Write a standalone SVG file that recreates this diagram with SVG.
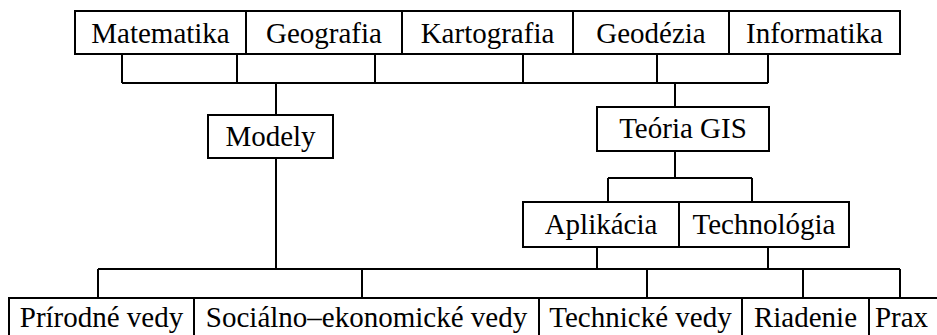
<svg xmlns="http://www.w3.org/2000/svg" width="937" height="335" viewBox="0 0 937 335">
<style>
rect{fill:#fff;stroke:#000;stroke-width:2}
text{font-family:"Liberation Serif","Times New Roman",serif;font-size:29px;fill:#000;text-anchor:middle}
.c{fill:none;stroke:#000;stroke-width:2}
</style>
<rect x="0" y="0" width="937" height="335" style="stroke:none"/>
<g id="connectors" class="c">
<path d="M122 54V83M237 54V83M375 54V83M523 54V83M657 54V83M768 54V83M122 83H768"/>
<path d="M276 83V115M276 158V269"/>
<path d="M675 83V107M675 151V178M608 178H752M608 178V202M752 178V202"/>
<path d="M597 247V269M768 247V269M98 269H900"/>
<path d="M98 269V298M362 269V298M647 269V298M803 269V298M900 269V298"/>
</g>
<g id="matematika"><rect x="75" y="11" width="171" height="43"/><text x="160.5" y="43">Matematika</text></g>
<g id="geografia"><rect x="246" y="11" width="156" height="43"/><text x="324" y="43">Geografia</text></g>
<g id="kartografia"><rect x="402" y="11" width="171" height="43"/><text x="487.5" y="43">Kartografia</text></g>
<g id="geodezia"><rect x="573" y="11" width="156" height="43"/><text x="651" y="43">Geodézia</text></g>
<g id="informatika"><rect x="729" y="11" width="171" height="43"/><text x="814.5" y="43">Informatika</text></g>
<g id="modely"><rect x="208" y="115" width="125" height="43"/><text x="270.5" y="146">Modely</text></g>
<g id="teoria-gis"><rect x="597" y="107" width="172" height="44"/><text x="683" y="138">Teória GIS</text></g>
<g id="aplikacia"><rect x="523" y="202" width="156" height="45"/><text x="601" y="234">Aplikácia</text></g>
<g id="technologia"><rect x="679" y="202" width="170" height="45"/><text x="764" y="234">Technológia</text></g>
<g id="prirodne-vedy"><rect x="9" y="298" width="185" height="50"/><text x="101.5" y="327">Prírodné vedy</text></g>
<g id="socialno-ekonomicke-vedy"><rect x="194" y="298" width="345" height="50"/><text x="366.5" y="327">Sociálno–ekonomické vedy</text></g>
<g id="technicke-vedy"><rect x="539" y="298" width="203" height="50"/><text x="640.5" y="327">Technické vedy</text></g>
<g id="riadenie"><rect x="742" y="298" width="127" height="50"/><text x="805.5" y="327">Riadenie</text></g>
<g id="prax"><rect x="869" y="298" width="80" height="50"/><text x="901.5" y="327">Prax</text></g>
</svg>
